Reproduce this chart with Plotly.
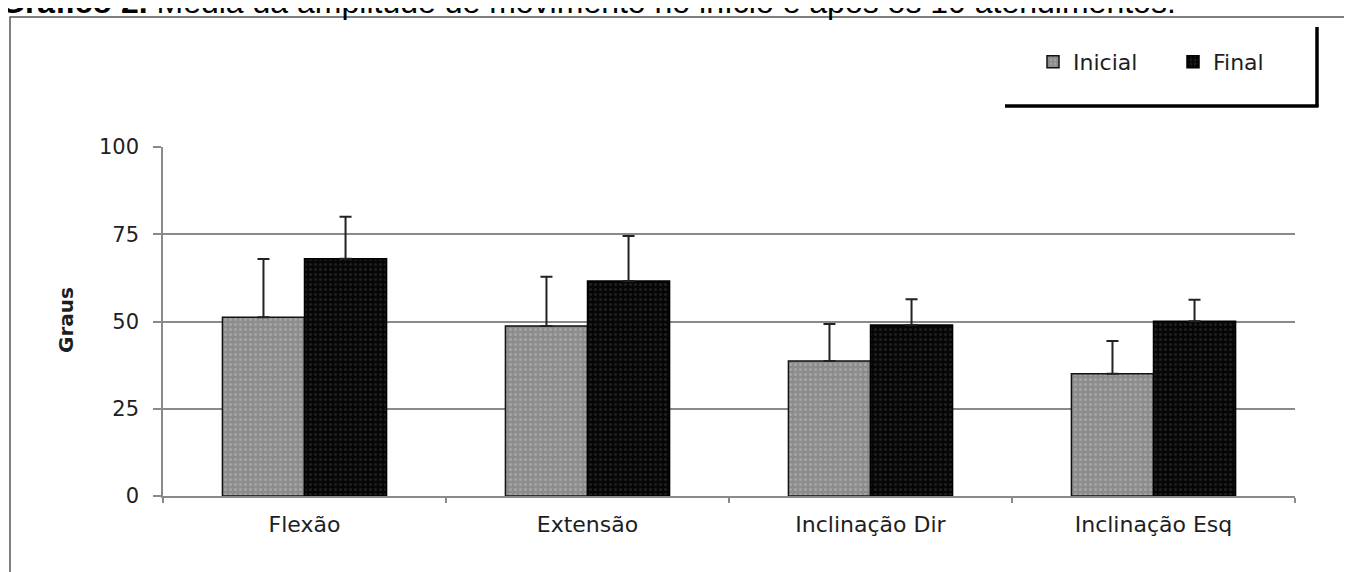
import plotly.graph_objects as go

categories = ["Flexão", "Extensão", "Inclinação Dir", "Inclinação Esq"]
inicial = [51.2, 48.7, 38.7, 35.0]
inicial_err_top = [67.9, 62.8, 49.3, 44.4]
final = [68.0, 61.6, 49.0, 50.1]
final_err_top = [80.0, 74.5, 56.4, 56.2]
y_ticks = [0, 25, 50, 75, 100]

OFF = 8  # browser body margin
W, H = 1352 - OFF, 572 - OFF
# plot area bounds in page pixels
L, R, T, B = 163, 1295, 147, 496


def px(x):
    return (x - L) / (R - L)


def py(y):
    return (B - y) / (B - T)


FONT = "DejaVu Sans, Liberation Sans, sans-serif"
TXT = "#1e1e1e"

fig = go.Figure()
fig.add_trace(go.Bar(
    name="Inicial", x=categories, y=inicial, legend="legend",
    marker=dict(color="#8c8c8c", line=dict(color="#111", width=1.5),
                pattern=dict(shape=".", bgcolor="#8c8c8c", fgcolor="#bdbdbd",
                             size=5, solidity=0.3, fillmode="overlay")),
    error_y=dict(type="data", symmetric=False,
                 array=[e - v for e, v in zip(inicial_err_top, inicial)],
                 arrayminus=[0] * len(inicial),
                 color="#222", thickness=2, width=6),
))
fig.add_trace(go.Bar(
    name="Final", x=categories, y=final, legend="legend2",
    marker=dict(color="#060606", line=dict(color="#000", width=1.5),
                pattern=dict(shape=".", bgcolor="#060606", fgcolor="#383838",
                             size=5, solidity=0.3, fillmode="overlay")),
    error_y=dict(type="data", symmetric=False,
                 array=[e - v for e, v in zip(final_err_top, final)],
                 arrayminus=[0] * len(final),
                 color="#222", thickness=2, width=6),
))

shapes = [
    # outer frame
    dict(type="rect", xref="paper", yref="paper",
         x0=px(10), x1=px(1400), y0=py(620), y1=py(17),
         line=dict(color="#555", width=1.5), fillcolor="rgba(0,0,0,0)", layer="below"),
    # legend box shadow lines
    dict(type="line", xref="paper", yref="paper",
         x0=px(1317), x1=px(1317), y0=py(107), y1=py(27),
         line=dict(color="#000", width=3.5)),
    dict(type="line", xref="paper", yref="paper",
         x0=px(1005), x1=px(1318.5), y0=py(106), y1=py(106),
         line=dict(color="#000", width=3.5)),
]

annotations = [
    dict(text="<b>Gráfico 2.</b> Média da amplitude de movimento no início e após os 10 atendimentos.",
         xref="paper", yref="paper", x=px(-2), y=py(22), xanchor="left", yanchor="bottom",
         showarrow=False, font=dict(family="Liberation Sans, Arial, sans-serif", size=32, color="#000")),
    dict(text="<b>Graus</b>", xref="paper", yref="paper", x=px(66), y=py(320),
         xanchor="center", yanchor="middle", textangle=-90, showarrow=False,
         font=dict(family=FONT, size=20, color=TXT)),
]

legend_common = dict(orientation="h", xanchor="left", yanchor="middle",
                     font=dict(family=FONT, size=22, color=TXT),
                     itemwidth=30, bgcolor="rgba(0,0,0,0)")

fig.update_layout(
    width=W, height=H,
    margin=dict(l=L - OFF, r=W - (R - OFF), t=T - OFF, b=H - (B - OFF), pad=0),
    paper_bgcolor="white", plot_bgcolor="white",
    barmode="group", bargap=0.42, bargroupgap=0,
    font=dict(family=FONT, color=TXT),
    showlegend=True,
    legend=dict(x=px(1033), y=py(62), **legend_common),
    legend2=dict(x=px(1173), y=py(62), **legend_common),
    shapes=shapes, annotations=annotations,
)
fig.update_yaxes(range=[0, 100], tickvals=y_ticks, showgrid=True,
                 gridcolor="#8a8a8a", gridwidth=1.5,
                 showline=True, linecolor="#8a8a8a", linewidth=1.5,
                 ticks="outside", ticklen=8, tickcolor="#8a8a8a", tickwidth=1.5,
                 ticklabelstandoff=10,
                 tickfont=dict(family=FONT, size=21, color=TXT), zeroline=False)
fig.update_xaxes(showline=True, linecolor="#8a8a8a", linewidth=1.5,
                 ticks="outside", tickson="boundaries", ticklen=5,
                 tickcolor="#8a8a8a", tickwidth=1.5, ticklabelstandoff=8,
                 tickfont=dict(family=FONT, size=22, color=TXT))

fig.write_html("out.html")
